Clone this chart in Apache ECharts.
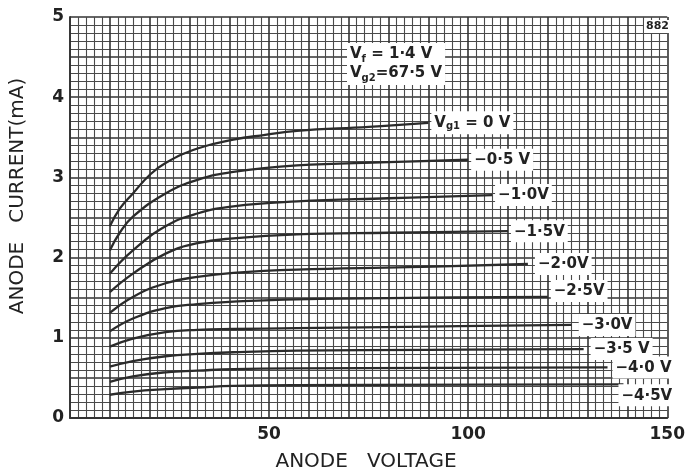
<!DOCTYPE html>
<html>
<head>
<meta charset="utf-8">
<script src="https://cdn.jsdelivr.net/npm/echarts@6/dist/echarts.min.js"></script>
<style>
  html, body { margin: 0; padding: 0; background: #fff; }
  #chart { width: 688px; height: 472px; }
</style>
</head>
<body>
<div id="chart"></div>
<script>
// Anode current (mA) against anode voltage (V) for each control-grid bias, as [Va, Ia] points
const vg1_0V   = [[10, 2.39], [12.5, 2.61], [15.8, 2.80], [20, 3.03], [24, 3.18], [32, 3.36], [41, 3.47], [49, 3.53], [57, 3.58], [75, 3.63], [90, 3.68]];
const vg1_m05V = [[10, 2.09], [12.5, 2.31], [15.8, 2.51], [24, 2.80], [32, 2.97], [41, 3.07], [57, 3.15], [80, 3.19], [100, 3.22]];
const vg1_m10V = [[10, 1.80], [15.8, 2.09], [24, 2.39], [32, 2.55], [41, 2.64], [57, 2.70], [80, 2.74], [106, 2.78]];
const vg1_m15V = [[10, 1.57], [15.8, 1.80], [24, 2.05], [32, 2.18], [41, 2.24], [57, 2.29], [80, 2.31], [110, 2.33]];
const vg1_m20V = [[10, 1.31], [15.8, 1.51], [24, 1.68], [32, 1.76], [41, 1.81], [57, 1.85], [85, 1.88], [115, 1.92]];
const vg1_m25V = [[10, 1.08], [15.8, 1.24], [24, 1.37], [32, 1.42], [41, 1.45], [57, 1.48], [90, 1.50], [120, 1.51]];
const vg1_m30V = [[10, 0.89], [15.8, 0.99], [24, 1.07], [32, 1.10], [41, 1.11], [57, 1.12], [90, 1.14], [126, 1.16]];
const vg1_m35V = [[10, 0.64], [15.8, 0.71], [24, 0.77], [32, 0.80], [41, 0.82], [57, 0.84], [90, 0.85], [129, 0.86]];
const vg1_m40V = [[10, 0.45], [15.8, 0.52], [24, 0.57], [32, 0.59], [41, 0.61], [57, 0.62], [135, 0.63]];
const vg1_m45V = [[10, 0.29], [15.8, 0.33], [24, 0.36], [32, 0.38], [41, 0.40], [57, 0.41], [139, 0.42]];

const curves = [vg1_0V, vg1_m05V, vg1_m10V, vg1_m15V, vg1_m20V, vg1_m25V, vg1_m30V, vg1_m35V, vg1_m40V, vg1_m45V];
const biasLabels = ['V{sub|g1} = 0 V', '−0·5 V', '−1·0V', '−1·5V', '−2·0V', '−2·5V', '−3·0V', '−3·5 V', '−4·0 V', '−4·5V'];

// Axis tick labels
const xTickLabels = [50, 100, 150];
const yTickLabels = [0, 1, 2, 3, 4, 5];

// Label nudges for the end-of-curve tags
const labelOffsets = [[0, 0], [0, 0], [0, 0], [0, 0], [4, 0], [0, -6], [4, 0], [4, 0], [2, 0], [-8, 11]];

const FONT = 'DejaVu Sans';
const INK = '#222';

const chart = echarts.init(document.getElementById('chart'), null, { renderer: 'canvas' });

const series = curves.map((pts, i) => ({
  type: 'line',
  name: biasLabels[i],
  data: pts,
  smooth: 0.45,
  showSymbol: false,
  silent: true,
  lineStyle: { color: '#2b2b2b', width: 2.3 },
  endLabel: {
    show: true,
    formatter: biasLabels[i],
    distance: 3,
    offset: labelOffsets[i],
    backgroundColor: '#fff',
    padding: [4, 3, 3, 3],
    color: INK,
    fontFamily: FONT,
    fontWeight: 'bold',
    fontSize: 15,
    rich: {
      sub: { fontSize: 10, fontFamily: FONT, fontWeight: 'bold', color: INK, verticalAlign: 'bottom', padding: [6, 0, 0, 0] }
    }
  }
}));

chart.setOption({
  backgroundColor: '#fff',
  animation: false,
  grid: { left: 70, top: 17, right: 17, bottom: 54 },
  xAxis: {
    type: 'value',
    min: 0, max: 150, interval: 10,
    axisLine: { show: true, lineStyle: { color: '#333', width: 1.8 } },
    axisTick: { show: false },
    axisLabel: {
      margin: 8,
      color: INK, fontFamily: FONT, fontWeight: 'bold', fontSize: 17,
      formatter: v => (xTickLabels.includes(v) ? String(v) : '')
    },
    splitLine: { show: true, lineStyle: { color: '#333', width: 1.6 } },
    minorTick: { show: false, splitNumber: 5 },
    minorSplitLine: { show: true, lineStyle: { color: '#4a4a4a', width: 1.1 } }
  },
  yAxis: {
    type: 'value',
    min: 0, max: 5, interval: 0.5,
    axisLine: { show: true, lineStyle: { color: '#333', width: 1.8 } },
    axisTick: { show: false },
    axisLabel: {
      margin: 6,
      color: INK, fontFamily: FONT, fontWeight: 'bold', fontSize: 17,
      formatter: v => (yTickLabels.includes(v) ? String(v) : '')
    },
    splitLine: { show: true, lineStyle: { color: '#333', width: 1.6 } },
    minorTick: { show: false, splitNumber: 5 },
    minorSplitLine: { show: true, lineStyle: { color: '#4a4a4a', width: 1.1 } }
  },
  graphic: [
    {
      type: 'text', x: 18, y: 196, rotation: Math.PI / 2,
      style: { text: 'ANODE   CURRENT(mA)', align: 'center', verticalAlign: 'middle',
               font: '20px "DejaVu Sans"', fill: INK }
    },
    {
      type: 'text', x: 366, y: 462,
      style: { text: 'ANODE   VOLTAGE', align: 'center', verticalAlign: 'middle',
               font: '20px "DejaVu Sans"', fill: INK }
    },
    {
      type: 'text', x: 347, y: 43, z: 100,
      style: {
        text: 'V{s|f} = 1·4 V\nV{s|g2}=67·5 V',
        backgroundColor: '#fff', padding: [2, 3, 2, 3],
        fill: INK, font: 'bold 15px "DejaVu Sans"', lineHeight: 19,
        rich: { s: { fontSize: 10, fontWeight: 'bold', fontFamily: FONT, fill: INK, verticalAlign: 'bottom', padding: [7, 0, 0, 0] } }
      }
    },
    {
      type: 'text', x: 644, y: 20, z: 100,
      style: { text: '882', backgroundColor: '#fff', padding: [1, 2, 1, 2],
               font: 'bold 11px "DejaVu Sans"', fill: INK }
    }
  ],
  series
});
</script>
</body>
</html>
